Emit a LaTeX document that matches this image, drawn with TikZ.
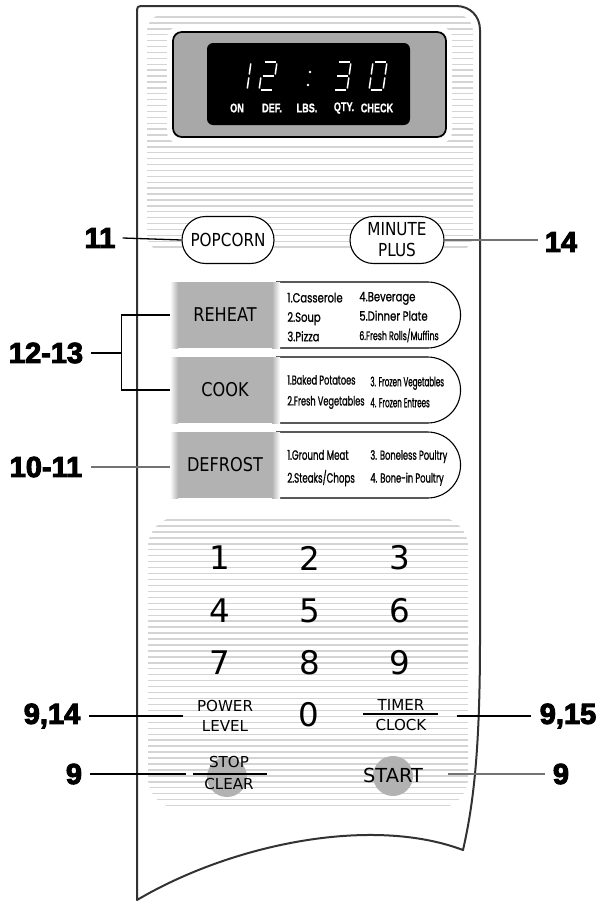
\documentclass[tikz,border=0pt]{standalone}
\usepackage{fontspec}
\setmainfont{DejaVu Sans}
\newfontfamily\keyfont[FakeStretch=0.85]{DejaVu Sans}
\newfontfamily\calloutfont[FakeBold=3.5]{Liberation Sans Bold}
\newfontfamily\lcdfont[FakeStretch=0.72, FakeBold=0.6]{Liberation Sans Bold}
\newfontfamily\listfont[FakeStretch=0.76, FakeBold=1]{Poppins}
\newfontfamily\listnarrow[FakeStretch=0.64, FakeBold=1]{Poppins}
\newfontfamily\listtight[FakeStretch=0.54, FakeBold=1]{Poppins}
\usetikzlibrary{shapes.misc, positioning, calc}
\definecolor{keygrey}{RGB}{178,178,178}
\definecolor{stripegrey}{RGB}{212,212,212}
\definecolor{lcdgrey}{RGB}{168,168,168}
\definecolor{edgegrey}{RGB}{50,50,50}

\newcommand\segdigit[2]{%
  \begin{scope}[shift={#1}, xslant=0.14]
    \coordinate (sa1) at (1.5,0);    \coordinate (sa2) at (12.5,0);
    \coordinate (sb1) at (14,1.5);   \coordinate (sb2) at (14,12.5);
    \coordinate (sc1) at (14,15.5);  \coordinate (sc2) at (14,26.5);
    \coordinate (sd1) at (1.5,28);   \coordinate (sd2) at (12.5,28);
    \coordinate (se1) at (0,15.5);   \coordinate (se2) at (0,26.5);
    \coordinate (sf1) at (0,1.5);    \coordinate (sf2) at (0,12.5);
    \coordinate (sg1) at (1.5,14);   \coordinate (sg2) at (12.5,14);
    \foreach \s in {#2} \draw[seg] (s\s1) -- (s\s2);
  \end{scope}}

\begin{document}
\begin{tikzpicture}[
  x=0.2mm, y=-0.2mm,
  stripe/.style={stripegrey, line width=0.28mm},
  lead/.style={line width=0.26mm, draw=black},
  lead grey/.style={lead, draw=black!55},
  callout/.style={font=\calloutfont\fontsize{16.5}{16.5}\selectfont, inner sep=0pt},
  pill/.style={rounded rectangle, draw, line width=0.22mm, fill=white, align=center,
    inner sep=0pt, minimum height=9.4mm, font=\keyfont\fontsize{10.2}{11.9}\selectfont},
  listpill/.style={rounded rectangle, rounded rectangle west arc=none, draw, line width=0.22mm,
    fill=white, minimum width=36.8mm, minimum height=13.2mm, anchor=west, inner sep=0pt},
  panelkey/.style={minimum width=22mm, minimum height=13.2mm, inner sep=0pt, fill=white,
    font=\keyfont\fontsize{10.8}{11}\selectfont,
    path picture={
      \fill[keygrey] ([xshift=1.6mm]path picture bounding box.south west)
        rectangle ([xshift=-1.6mm]path picture bounding box.north east);
      \shade[left color=white, right color=keygrey] (path picture bounding box.south west)
        rectangle ([xshift=1.6mm]path picture bounding box.north west);
      \shade[left color=keygrey, right color=white] ([xshift=-1.6mm]path picture bounding box.south east)
        rectangle (path picture bounding box.north east);
    }},
  listtext/.style={anchor=west, inner sep=0pt, align=left, font=\listfont\fontsize{7.5}{11.05}\selectfont},
  numkey/.style={font=\fontsize{18.5}{20}\selectfont, inner sep=0pt},
  smallkey/.style={font=\fontsize{8.6}{11.8}\selectfont, align=center, inner sep=0pt},
  lcdtext/.style={text=white, font=\lcdfont\fontsize{7.2}{7}\selectfont, inner sep=0pt},
  seg/.style={white, line width=0.3mm},
  keybar/.style={line width=0.4mm},
]
\useasboundingbox (0,0) rectangle (616,906);

% ribbed areas
\begin{scope}
  \clip[rounded corners=10pt] (147,14) rectangle (473,252);
  \foreach \y in {17,22.9,...,252} \draw[stripe] (140,\y) -- (480,\y);
\end{scope}
\begin{scope}
  \clip[rounded corners=17pt] (148,517) rectangle (468,808);
  \foreach \y in {520,525.95,...,808} \draw[stripe] (140,\y) -- (480,\y);
\end{scope}

% panel outline
\draw[edgegrey, line width=0.4mm, line join=round] (137,900) -- (137,10)
  .. controls (137,7) and (138,6) .. (141,6) -- (456,6)
  .. controls (470,6) and (480,16) .. (480,30) -- (480,640)
  .. controls (480,760) and (472,810) .. (463,850)
  .. controls (370,815) and (230,845) .. (137,900) -- cycle;

% display
\fill[white, rounded corners=6pt] (167,27) rectangle (452,143);
\draw[fill=lcdgrey, line width=0.35mm, rounded corners=5pt] (173,32) rectangle (446,137);
\fill[black, rounded corners=3.5pt] (207,43) rectangle (410,125);
\segdigit{(237,62)}{b,c}
\segdigit{(263,62)}{a,b,g,e,d}
\segdigit{(337,62)}{a,b,g,c,d}
\segdigit{(373,62)}{a,b,c,d,e,f}
\fill[white] (310,72) circle (1.3) (308,85) circle (1.3);
\foreach \t/\x/\nm in {ON/237/on, DEF./272/def, LBS./307/lbs, QTY./344/qty, CHECK/377/chk}
  \node[lcdtext] (\nm) at (\x,108) {\t};

% one-touch pads
\node[pill, minimum width=18.4mm] (pop) at (228,240) {POPCORN};
\node[pill, minimum width=18.8mm] (mnt) at (397,240) {MINUTE\\PLUS};

\node[listpill] (rhp) at (276,315) {};
\node[listpill] (ckp) at (276,390) {};
\node[listpill] (dfp) at (276,465) {};
\node[panelkey] (rh) at (225,315) {REHEAT};
\node[panelkey] (ck) at (225,390) {COOK};
\node[panelkey] (df) at (225,465) {DEFROST};

\node[listtext] (rhA) at (287,317) {1.Casserole\\2.Soup\\3.Pizza};
\node[listtext] (rhB) at (359,317) {4.Beverage\\5.Dinner Plate\\{\listnarrow\fontsize{7}{11}\selectfont 6.Fresh Rolls/Muffins}};
\node[listtext, font=\listnarrow\fontsize{7.3}{11.9}\selectfont] (ckA) at (287,392) {1.Baked Potatoes\\2.Fresh Vegetables};
\node[listtext, font=\listtight\fontsize{7.5}{11.9}\selectfont] (ckB) at (370,392) {3. Frozen Vegetables\\4. Frozen Entrees};
\node[listtext, font=\listnarrow\fontsize{7.7}{13}\selectfont] (dfA) at (287,468) {1.Ground Meat\\2.Steaks/Chops};
\node[listtext, font=\listnarrow\fontsize{7.4}{13}\selectfont] (dfB) at (370,468) {3. Boneless Poultry\\4. Bone-in Poultry};

% number pad
\foreach \n [count=\i from 0] in {1,...,9}
  \node[numkey] (k\n) at ({220+90*mod(\i,3)}, {558+52.5*int(\i/3)}) {\n};
\node[numkey] (k0) at (309,715) {0};
\node[smallkey] (pl) at (225,716) {POWER\\LEVEL};
\node[smallkey, font=\fontsize{8.6}{11.3}\selectfont] (tc) at (401,715) {TIMER\\CLOCK};
\draw[keybar] (tc.center) ++(-38,-1) -- ++(75,0);
\fill[keygrey] (227,777) circle (20);
\node[smallkey, font=\fontsize{8.6}{12}\selectfont] (sc) at (229,773) {STOP\\CLEAR};
\draw[keybar] (sc.center) ++(-36,1) -- ++(74,0);
\fill[keygrey] (393,776) circle (20);
\node[numkey, font=\fontsize{11}{12}\selectfont] (st) at (393,775) {START};

% call-outs
\node[callout] (c11) at (100,238) {11};
\node[callout] (c14) at (561,242) {14};
\node[callout] (c1213) at (46,353) {12-13};
\node[callout] (c1011) at (46,467) {10-11};
\node[callout] (c914) at (52,716) {9,14};
\node[callout] (c915) at (568,716) {9,15};
\node[callout] (c9a) at (74,774) {9};
\node[callout] (c9b) at (561,774) {9};

\draw[lead] ([xshift=1.4mm]c11.east) -- (pop.west);
\draw[lead grey] (mnt.east) -- ([xshift=-1.4mm]c14.west |- mnt.east);
\draw[lead] ([xshift=1.6mm]c1213.east) -- ++(30,0) coordinate (brk);
\draw[lead] (rh.west) -| (brk) |- (ck.west);
\draw[lead grey] ([xshift=1.6mm]c1011.east) -- (c1011.east -| df.west);
\draw[lead] ([xshift=1.6mm]c914.east) -- ([xshift=-2.8mm]c914.east -| pl.west);
\draw[lead] ([xshift=-1.6mm]c915.west) -- ([xshift=6mm]c915.west -| tc.east);
\draw[lead] ([xshift=1.6mm]c9a.east) -- ([xshift=-3.6mm]c9a.east -| sc.west);
\draw[lead grey] ([xshift=-1.6mm]c9b.west) -- ([xshift=5mm]c9b.west -| st.east);
\end{tikzpicture}
\end{document}
